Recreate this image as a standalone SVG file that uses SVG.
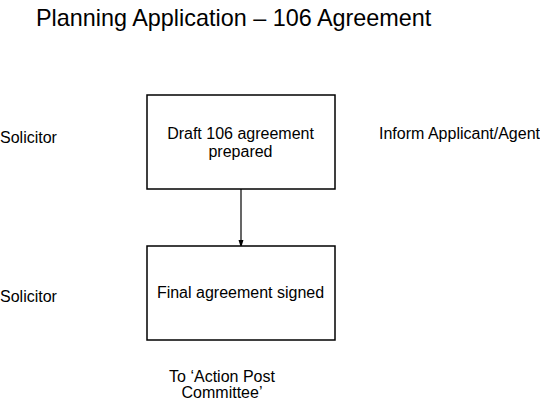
<svg xmlns="http://www.w3.org/2000/svg" width="540" height="402" viewBox="0 0 540 402">
<style>
text{font-family:"Liberation Sans",Arial,sans-serif;fill:#000}
.t{font-size:16px}
.box{fill:#fff;stroke:#000;stroke-width:1.5}
.c{text-anchor:middle}
</style>
<defs>
<marker id="ah" markerWidth="8" markerHeight="13" refX="8" refY="4" orient="auto" markerUnits="userSpaceOnUse" viewBox="0 0 13 8">
<path d="M0,0 L13,4 L0,8 Z" fill="#000"/>
</marker>
</defs>
<rect width="540" height="402" fill="#fff"/>
<text x="36" y="26" font-size="23.4">Planning Application – 106 Agreement</text>
<text class="t" x="0" y="143">Solicitor</text>
<text class="t" x="0" y="302">Solicitor</text>
<text class="t" x="379" y="139">Inform Applicant/Agent</text>
<g id="connectors">
<line x1="241" y1="189" x2="241" y2="245" stroke="#000" stroke-width="1.2" marker-end="url(#ah)"/>
</g>
<g id="node-draft">
<rect class="box" x="147" y="95" width="188" height="94"/>
<text class="t c" x="240.5" y="138.5">Draft 106 agreement</text>
<text class="t c" x="240.5" y="156.5">prepared</text>
</g>
<g id="node-final">
<rect class="box" x="147" y="246" width="188" height="94"/>
<text class="t c" x="240.5" y="298">Final agreement signed</text>
</g>
<text class="t c" x="222" y="382">To ‘Action Post</text>
<text class="t c" x="222" y="398">Committee’</text>
</svg>
